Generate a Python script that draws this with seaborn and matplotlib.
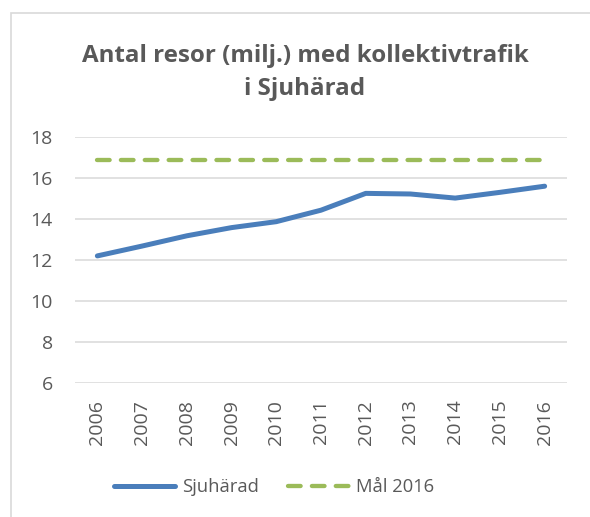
import matplotlib
matplotlib.use("Agg")
import matplotlib.pyplot as plt
import seaborn as sns
import pandas as pd
from matplotlib.patches import Rectangle

years = ["2006", "2007", "2008", "2009", "2010", "2011", "2012", "2013", "2014", "2015", "2016"]
sjuharad = [12.2, 12.68, 13.18, 13.58, 13.87, 14.43, 15.25, 15.22, 15.02, 15.3, 15.6]
mal_2016 = [16.9, 16.9, 16.9, 16.9, 16.9, 16.9, 16.9, 16.9, 16.9, 16.9, 16.9]
yticks = [6, 8, 10, 12, 14, 16, 18]
title = "Antal resor (milj.) med kollektivtrafik\ni Sjuhärad"
series_names = ["Sjuhärad", "Mål 2016"]

sns.set_theme(style="white")
plt.rcParams['font.family'] = ['Open Sans', 'DejaVu Sans']
plt.rcParams['lines.scale_dashes'] = False

TXT = "#595959"
BLUE = "#4A7EBB"
GREEN = "#9BBB59"
GRID = "#D9D9D9"

W, H = 590, 517
fig = plt.figure(figsize=(W / 100, H / 100), dpi=100)
ax = fig.add_axes([75 / W, (H - 383) / H, (567 - 75) / W, (383 - 137) / H])

df = pd.DataFrame({"year": years, "Sjuhärad": sjuharad, "Mål 2016": mal_2016})
sns.lineplot(data=df, x="year", y="Sjuhärad", ax=ax, color=BLUE, linewidth=3.6,
             label=series_names[0], sort=False)
sns.lineplot(data=df, x="year", y="Mål 2016", ax=ax, color=GREEN, linewidth=3.1,
             label=series_names[1], sort=False)

lines = ax.get_lines()
lines[0].set_solid_capstyle("round")
lines[0].set_solid_joinstyle("round")
lines[1].set_linestyle((0, (9.1, 8.1)))
lines[1].set_dash_capstyle("round")

ax.set_xlim(-0.5, len(years) - 0.5)
ax.set_ylim(6, 18)
ax.set_yticks(yticks)
ax.set_yticklabels([str(v) for v in yticks])
ax.set_xlabel("")
ax.set_ylabel("")
for s in ax.spines.values():
    s.set_visible(False)
ax.yaxis.grid(True, color=GRID, linewidth=1.1)
ax.set_axisbelow(True)
ax.tick_params(axis="y", length=0, pad=16, labelsize=14, labelcolor=TXT)
ax.tick_params(axis="x", length=0, pad=12, labelsize=14, labelcolor=TXT, rotation=90)

handles, labels = ax.get_legend_handles_labels()
ax.get_legend().remove()
fig.legend(handles, labels, loc="center", bbox_to_anchor=(274 / W, 1 - 487 / H), ncol=2,
           frameon=False, fontsize=13.2, labelcolor=TXT, handlelength=3.3,
           handletextpad=0.4, columnspacing=1.6)

fig.text(305 / W, 1 - 95 / H, title, ha="center", va="baseline", fontsize=17.4,
         fontweight="bold", color=TXT, linespacing=1.5)

fig.patches.append(Rectangle((11 / W, -0.1), 1.2, 1 - 13 / H + 0.1, transform=fig.transFigure,
                             fill=False, edgecolor=GRID, linewidth=1.2, figure=fig))

fig.savefig("out.png", dpi=100, facecolor="white")
